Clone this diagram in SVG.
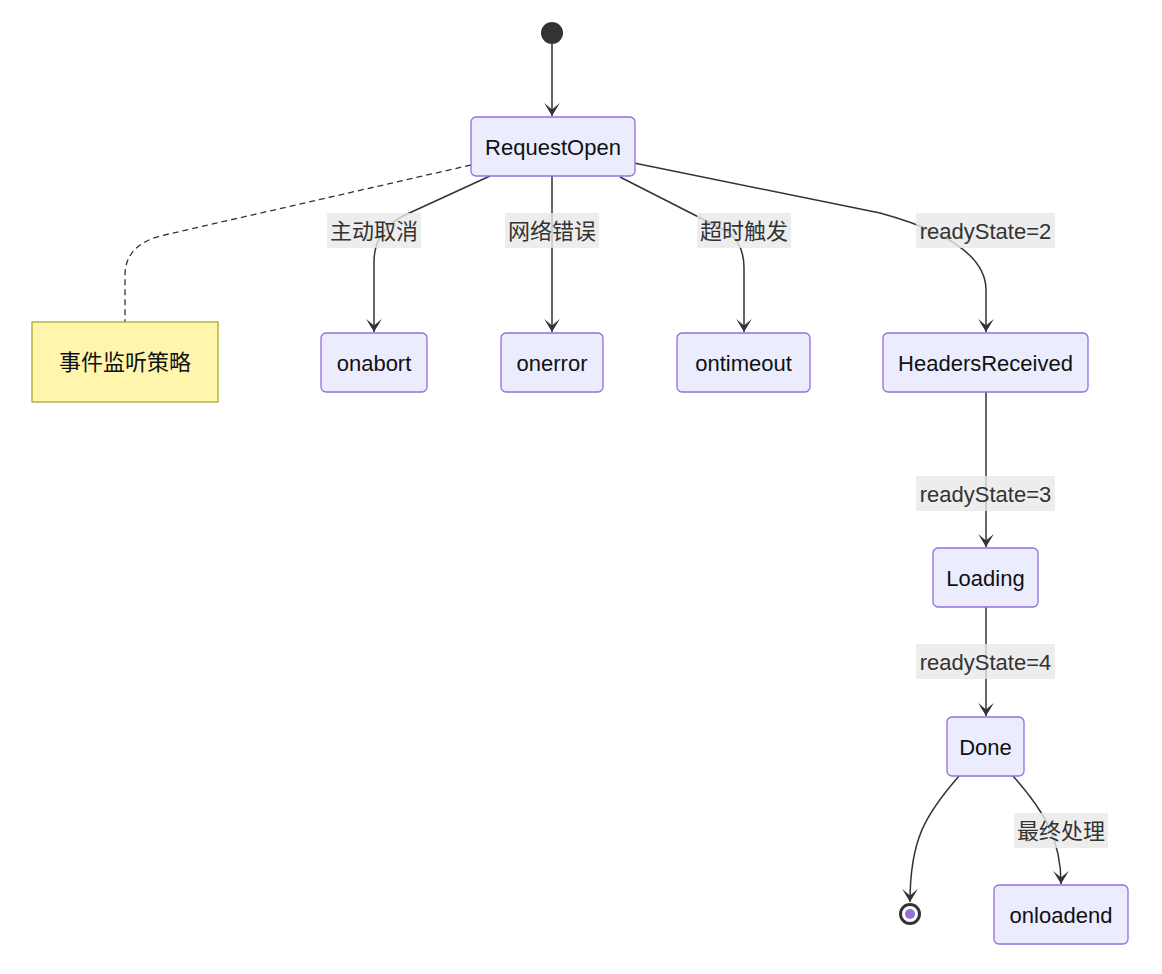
<svg xmlns="http://www.w3.org/2000/svg" width="1162" height="974" viewBox="0 0 1162 974">
<style>
.node rect{fill:#ECECFF;stroke:#9370DB;stroke-width:1.3}
.node text{font-family:"Liberation Sans","Noto Sans CJK SC",sans-serif;font-size:22px;fill:#111;text-anchor:middle;dominant-baseline:central}
.note rect{fill:#fff5ad;stroke:#aaaa33;stroke-width:1.3}
.edge{fill:none;stroke:#333;stroke-width:1.5}
.dash{fill:none;stroke:#333;stroke-width:1.3;stroke-dasharray:6 4}
.lbl rect{fill:#e8e8e8;opacity:0.8}
.lbl text{font-family:"Liberation Sans","Noto Sans CJK SC",sans-serif;font-size:22px;fill:#333;text-anchor:middle;dominant-baseline:central}
.cjk{font-size:23px}
</style>
<defs>
<marker id="arr" viewBox="0 0 20 14" refX="19" refY="7" markerWidth="26" markerHeight="18.2" markerUnits="userSpaceOnUse" orient="auto">
<path d="M19,7 L9,13 L14,7 L9,1 Z" fill="#333"/>
</marker>
</defs>
<rect width="1162" height="974" fill="#fff"/>
<g id="edges">
<path class="edge" d="M552,44 L552,116" marker-end="url(#arr)"/>
<path class="edge" d="M490,176 L405,215 Q374,230 374,262 L374,332" marker-end="url(#arr)"/>
<path class="edge" d="M552,176 L552,332" marker-end="url(#arr)"/>
<path class="edge" d="M620,177 L728,232 Q744,244 744,268 L744,332" marker-end="url(#arr)"/>
<path class="edge" d="M634,163 L880,213 Q986,242 986,290 L986,332" marker-end="url(#arr)"/>
<path class="dash" d="M471,165 L160,236 Q125,246 125,275 L125,322"/>
<path class="edge" d="M986,392 L986,547" marker-end="url(#arr)"/>
<path class="edge" d="M986,607 L986,716" marker-end="url(#arr)"/>
<path class="edge" d="M959,776 C925,815 910,840 910,902" marker-end="url(#arr)"/>
<path class="edge" d="M1013,776 C1045,812 1061,840 1061,884" marker-end="url(#arr)"/>
</g>
<g id="labels">
<g class="lbl"><rect x="327" y="213" width="94" height="35"/><text class="cjk" x="374" y="231">主动取消</text></g>
<g class="lbl"><rect x="505" y="213" width="94" height="35"/><text class="cjk" x="552" y="231">网络错误</text></g>
<g class="lbl"><rect x="697" y="213" width="94" height="35"/><text class="cjk" x="744" y="231">超时触发</text></g>
<g class="lbl"><rect x="916" y="213" width="139" height="35"/><text x="985.5" y="231">readyState=2</text></g>
<g class="lbl"><rect x="916" y="476" width="139" height="35"/><text x="985.5" y="494">readyState=3</text></g>
<g class="lbl"><rect x="916" y="644" width="139" height="35"/><text x="985.5" y="662">readyState=4</text></g>
<g class="lbl"><rect x="1014" y="813" width="94" height="35"/><text class="cjk" x="1061" y="831">最终处理</text></g>
</g>
<g id="start"><circle cx="552" cy="33" r="11" fill="#333"/></g>
<g id="RequestOpen" class="node"><rect x="471" y="117" width="164" height="59" rx="5"/><text x="553" y="147">RequestOpen</text></g>
<g id="note" class="note node"><rect x="32" y="322" width="186" height="80" style="fill:#fff5ad;stroke:#aaaa33"/><text class="cjk" x="125" y="362">事件监听策略</text></g>
<g id="onabort" class="node"><rect x="321" y="333" width="106" height="59" rx="5"/><text x="374" y="363">onabort</text></g>
<g id="onerror" class="node"><rect x="501" y="333" width="102" height="59" rx="5"/><text x="552" y="363">onerror</text></g>
<g id="ontimeout" class="node"><rect x="677" y="333" width="133" height="59" rx="5"/><text x="743.5" y="363">ontimeout</text></g>
<g id="HeadersReceived" class="node"><rect x="883" y="333" width="205" height="59" rx="5"/><text x="985.5" y="363">HeadersReceived</text></g>
<g id="Loading" class="node"><rect x="933" y="548" width="105" height="59" rx="5"/><text x="985.5" y="578">Loading</text></g>
<g id="Done" class="node"><rect x="947" y="717" width="77" height="59" rx="5"/><text x="985.5" y="747">Done</text></g>
<g id="onloadend" class="node"><rect x="994" y="885" width="134" height="59" rx="5"/><text x="1061" y="915">onloadend</text></g>
<g id="end"><circle cx="910" cy="914" r="9.5" fill="#fff" stroke="#333" stroke-width="3"/><circle cx="910" cy="914" r="5" fill="#9370DB"/></g>
</svg>
